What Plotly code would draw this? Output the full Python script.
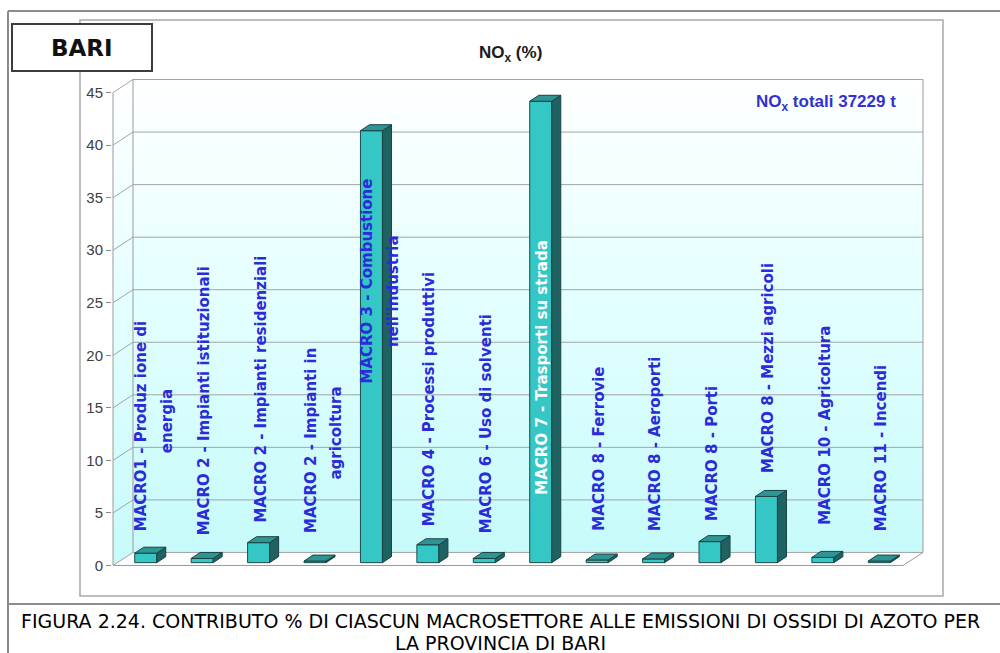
import plotly.graph_objects as go

# ---------------------------------------------------------------- data
sectors = [
    ["MACRO1 - Produz ione di", "energia"],
    ["MACRO 2 - Impianti istituzionali"],
    ["MACRO 2 - Impianti residenziali"],
    ["MACRO 2 - Impianti in", "agricoltura"],
    ["MACRO 3 - Combustione", "nell'industria"],
    ["MACRO 4 - Processi produttivi"],
    ["MACRO 6 - Uso di solventi"],
    ["MACRO 7 - Trasporti su strada"],
    ["MACRO 8 - Ferrovie"],
    ["MACRO 8 - Aeroporti"],
    ["MACRO 8 - Porti"],
    ["MACRO 8 - Mezzi agricoli"],
    ["MACRO 10 - Agricoltura"],
    ["MACRO 11 - Incendi"],
]
nox_share = [0.9, 0.4, 1.9, 0.15, 41.1, 1.7, 0.4, 43.9, 0.25, 0.35, 2.0, 6.3, 0.5, 0.15]
y_ticks = [0, 5, 10, 15, 20, 25, 30, 35, 40, 45]
province = "BARI"
total_tonnes = 37229

# ---------------------------------------------------------------- label placement (axis units)
label_bottom = [3.09, 2.71, 3.85, 2.90, 17.17, 3.57, 2.90, 6.52, 3.09, 3.09, 4.04, 8.61, 3.66, 3.09]
second_line_mid = {0: 13.75, 3: 12.6, 4: 26.1}
inside_white = {7}

# ---------------------------------------------------------------- 3D geometry (axis units)
WALL_DX, WALL_DY = 0.354, 1.24
BAR_DX, BAR_DY = 0.16, 0.57
BAR_W, BAR_SHIFT, BAR_BASE = 0.39, 0.08, 0.27
X0, X1 = -0.5, len(nox_share) - 0.5
Y_TOP = y_ticks[-1]
X_RANGE = [-0.518, 13.89]
Y_RANGE = [-0.24, 46.48]

# plot-area box in page pixels, used to place page furniture in paper units
PL, PR, PT, PB = 112, 925, 77, 568
W, H = 1000, 653


def px(xp):
    return (xp - PL) / (PR - PL)


def py(yp):
    return (PB - yp) / (PB - PT)


BLUE = "#2b2bd8"
LABEL_FONT = "DejaVu Sans, Verdana, sans-serif"
ARIAL = "Liberation Sans, Arial, sans-serif"
CAPTION_FONT = "DejaVu Sans"

fig = go.Figure()

wall_grad = dict(type="vertical",
                 colorscale=[[0, "#c6fafa"], [0.5, "#e2ffff"], [1, "#ffffff"]])

# side wall
fig.add_trace(go.Scatter(
    x=[X0, X0 + WALL_DX, X0 + WALL_DX, X0, X0],
    y=[0, WALL_DY, Y_TOP + WALL_DY, Y_TOP, 0],
    fill="toself", fillgradient=wall_grad, mode="lines",
    line=dict(width=0), hoverinfo="skip", showlegend=False))
# back wall
fig.add_trace(go.Scatter(
    x=[X0 + WALL_DX, X1 + WALL_DX, X1 + WALL_DX, X0 + WALL_DX, X0 + WALL_DX],
    y=[WALL_DY, WALL_DY, Y_TOP + WALL_DY, Y_TOP + WALL_DY, WALL_DY],
    fill="toself", fillgradient=wall_grad, mode="lines",
    line=dict(width=0), hoverinfo="skip", showlegend=False))
# floor
fig.add_trace(go.Scatter(
    x=[X0, X1, X1 + WALL_DX, X0 + WALL_DX, X0],
    y=[0, 0, WALL_DY, WALL_DY, 0],
    fill="toself", fillcolor="#fdfdfd", mode="lines",
    line=dict(width=0), hoverinfo="skip", showlegend=False))

# grid: diagonal on side wall + horizontal on back wall
gx, gy = [], []
for t in y_ticks:
    gx += [X0, X0 + WALL_DX, X1 + WALL_DX, None]
    gy += [t, t + WALL_DY, t + WALL_DY, None]
fig.add_trace(go.Scatter(x=gx, y=gy, mode="lines",
                         line=dict(color="#a3a3a3", width=1),
                         hoverinfo="skip", showlegend=False))

# box edges: front axis, wall corners, floor front
ex = [X0, X0, None, X0 + WALL_DX, X0 + WALL_DX, None, X1 + WALL_DX, X1 + WALL_DX, None,
      X0, X1, X1 + WALL_DX]
ey = [0, Y_TOP, None, WALL_DY, Y_TOP + WALL_DY, None, WALL_DY, Y_TOP + WALL_DY, None,
      0, 0, WALL_DY]
fig.add_trace(go.Scatter(x=ex, y=ey, mode="lines",
                         line=dict(color="#9a9a9a", width=1),
                         hoverinfo="skip", showlegend=False))

# ---------------------------------------------------------------- bars (overlay subplot so they sit above the walls)
idx = list(range(len(nox_share)))
bar_x = [i + BAR_SHIFT for i in idx]
fig.add_trace(go.Bar(
    x=bar_x, y=nox_share, base=BAR_BASE, width=BAR_W,
    marker=dict(color="#35c6c6", line=dict(color="#1d4b4b", width=1)),
    xaxis="x2", yaxis="y2", hoverinfo="skip", showlegend=False))

sx, sy, tx, ty = [], [], [], []
for cx, v in zip(bar_x, nox_share):
    xl, xr = cx - BAR_W / 2, cx + BAR_W / 2
    b, t = BAR_BASE, BAR_BASE + v
    sx += [xr, xr + BAR_DX, xr + BAR_DX, xr, xr, None]
    sy += [b, b + BAR_DY, t + BAR_DY, t, b, None]
    tx += [xl, xr, xr + BAR_DX, xl + BAR_DX, xl, None]
    ty += [t, t, t + BAR_DY, t + BAR_DY, t, None]
fig.add_trace(go.Scatter(x=sx, y=sy, fill="toself", fillcolor="#1f6262", mode="lines",
                         line=dict(color="#1a4242", width=1),
                         xaxis="x2", yaxis="y2", hoverinfo="skip", showlegend=False))
fig.add_trace(go.Scatter(x=tx, y=ty, fill="toself", fillcolor="#2f9494", mode="lines",
                         line=dict(color="#1a4242", width=1),
                         xaxis="x2", yaxis="y2", hoverinfo="skip", showlegend=False))

# ---------------------------------------------------------------- sector labels
annotations = []
for i, lines in enumerate(sectors):
    color = "#ffffff" if i in inside_white else BLUE
    if len(lines) == 1:
        annotations.append(dict(
            x=i, y=label_bottom[i], xref="x", yref="y", text="<b>%s</b>" % lines[0],
            textangle=-90, showarrow=False, xanchor="center", yanchor="bottom",
            xshift=6, font=dict(family=LABEL_FONT, size=15, color=color)))
    else:
        annotations.append(dict(
            x=i, y=label_bottom[i], xref="x", yref="y", text="<b>%s</b>" % lines[0],
            textangle=-90, showarrow=False, xanchor="center", yanchor="bottom",
            xshift=0, font=dict(family=LABEL_FONT, size=15, color=color)))
        annotations.append(dict(
            x=i, y=second_line_mid[i], xref="x", yref="y", text="<b>%s</b>" % lines[1],
            textangle=-90, showarrow=False, xanchor="center", yanchor="middle",
            xshift=26, font=dict(family=LABEL_FONT, size=15, color=color)))

# titles and caption
annotations += [
    dict(x=px(82), y=py(48), xref="paper", yref="paper", text="<b>%s</b>" % province,
         showarrow=False, xanchor="center", yanchor="middle",
         font=dict(family="DejaVu Sans, Verdana, sans-serif", size=23, color="#111111")),
    dict(x=px(510), y=py(54), xref="paper", yref="paper", text="<b>NO<sub>x</sub> (%)</b>",
         showarrow=False, xanchor="center", yanchor="middle",
         font=dict(family=ARIAL, size=17, color="#1a1a1a")),
    dict(x=px(826), y=py(103), xref="paper", yref="paper",
         text="<b>NO<sub>x</sub> totali %d t</b>" % total_tonnes,
         showarrow=False, xanchor="center", yanchor="middle",
         font=dict(family=ARIAL, size=17, color="#3232d0")),
    dict(x=px(500), y=py(621), xref="paper", yref="paper",
         text="FIGURA 2.24. CONTRIBUTO % DI CIASCUN MACROSETTORE ALLE EMISSIONI DI OSSIDI DI AZOTO PER",
         showarrow=False, xanchor="center", yanchor="middle",
         font=dict(family=CAPTION_FONT, size=19, color="#000000")),
    dict(x=px(500), y=py(643), xref="paper", yref="paper",
         text="LA PROVINCIA DI BARI",
         showarrow=False, xanchor="center", yanchor="middle",
         font=dict(family=CAPTION_FONT, size=19, color="#000000")),
]

# page frame, chart box and province box
shapes = [
    dict(type="line", xref="paper", yref="paper", x0=px(8), x1=px(1000), y0=py(11), y1=py(11),
         line=dict(color="#8c8c8c", width=2)),
    dict(type="line", xref="paper", yref="paper", x0=px(8), x1=px(8), y0=py(11), y1=py(653),
         line=dict(color="#8c8c8c", width=2)),
    dict(type="line", xref="paper", yref="paper", x0=px(8), x1=px(1000), y0=py(604), y1=py(604),
         line=dict(color="#8c8c8c", width=2)),
    dict(type="rect", xref="paper", yref="paper", x0=px(80), x1=px(943), y0=py(596), y1=py(20),
         line=dict(color="#a8a8a8", width=1.5)),
    dict(type="rect", xref="paper", yref="paper", x0=px(12), x1=px(152), y0=py(71), y1=py(24),
         fillcolor="#ffffff", line=dict(color="#3c3c3c", width=2)),
]

fig.update_layout(
    width=W, height=H,
    margin=dict(l=PL, r=W - PR, t=PT, b=H - PB, pad=0),
    paper_bgcolor="#ffffff", plot_bgcolor="rgba(0,0,0,0)",
    showlegend=False, barmode="overlay",
    xaxis=dict(range=X_RANGE, visible=False, fixedrange=True),
    yaxis=dict(range=Y_RANGE, tickvals=y_ticks, ticks="outside", ticklen=5,
               tickcolor="#8a8a8a", showgrid=False, zeroline=False, showline=False,
               tickfont=dict(family=ARIAL, size=15, color="#404040"), fixedrange=True),
    xaxis2=dict(range=X_RANGE, overlaying="x", anchor="y2", visible=False, fixedrange=True),
    yaxis2=dict(range=Y_RANGE, overlaying="y", anchor="x2", visible=False, fixedrange=True),
    annotations=annotations, shapes=shapes,
)

fig.write_html("out.html", config={"displayModeBar": False})
